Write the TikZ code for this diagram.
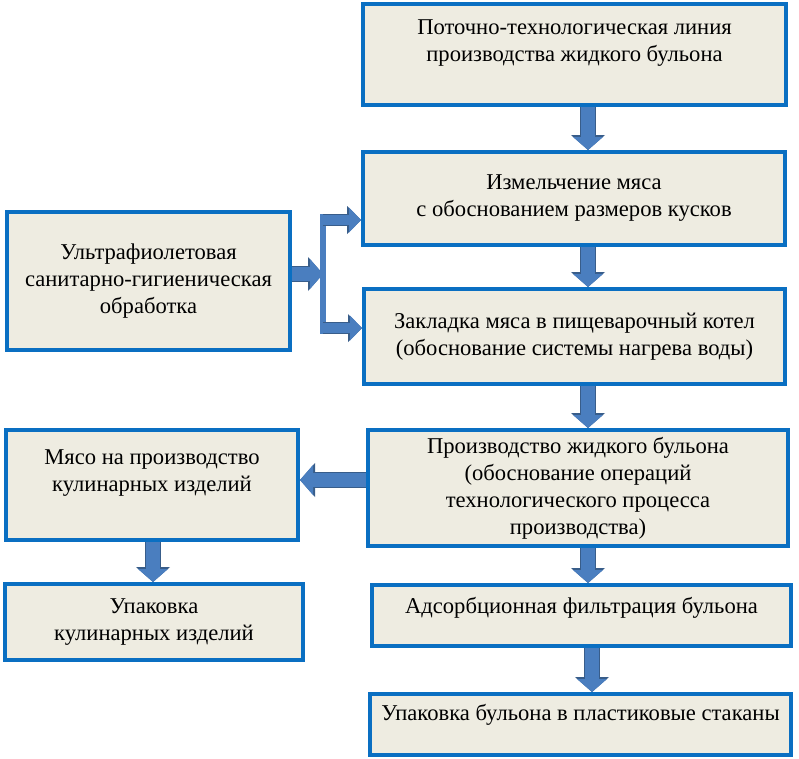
\documentclass[tikz,border=0pt]{standalone}
\usepackage{fontspec}
\setmainfont{Liberation Serif}
\usetikzlibrary{arrows.meta}
\definecolor{boxblue}{HTML}{0A6FC2}
\definecolor{boxfill}{HTML}{EEECE1}
\definecolor{arrowfill}{HTML}{4A7EBF}
\definecolor{arrowedge}{HTML}{385D8A}
\tikzset{
  stage/.style={draw=boxblue, line width=4pt, fill=boxfill, align=center,
    font=\fontsize{22.6}{27}\selectfont, inner sep=0pt},
  lift/.style={text depth=#1},
  flow/.style={draw=arrowfill, line width=14pt,
    -{Triangle[width=30pt,length=13pt,line width=0pt]},
    preaction={draw=arrowedge, line width=16pt,
      -{Triangle[width=34pt,length=15pt,line width=0pt]}}},
  branch/.style={draw=arrowfill, line width=10pt,
    -{Triangle[width=25pt,length=12pt,line width=0pt]},
    preaction={draw=arrowedge, line width=12pt,
      -{Triangle[width=28pt,length=14pt,line width=0pt]}}},
  bar/.style={draw=arrowfill, line width=6pt},
}
\begin{document}
\begin{tikzpicture}[x=1pt, y=-1pt]
    \useasboundingbox (0, 0) rectangle (799, 758);
    % Right column
    \node [stage, lift=27pt, minimum width=423pt, minimum height=101pt] (line) at (574.5, 54.5)
        {Поточно-технологическая линия\\производства жидкого бульона};
    \node [stage, minimum width=422pt, minimum height=93pt] (grind) at (574, 198.5)
        {Измельчение мяса\\с обоснованием размеров кусков};
    \node [stage, minimum width=421pt, minimum height=95pt] (load) at (574.5, 336.5)
        {Закладка мяса в пищеварочный котел\\(обоснование системы нагрева воды)};
    \node [stage, minimum width=420pt, minimum height=116pt] (broth) at (578, 488)
        {Производство жидкого бульона\\(обоснование операций\\технологического процесса\\производства)};
    \node [stage, lift=20pt, minimum width=419pt, minimum height=61pt] (filter) at (581.5, 615.5)
        {Адсорбционная фильтрация бульона};
    \node [stage, lift=24pt, minimum width=421pt, minimum height=61pt] (cups) at (580.5, 724.5)
        {Упаковка бульона в пластиковые стаканы};
    % Left column
    \node [stage, minimum width=283pt, minimum height=138pt] (uv) at (148.5, 281)
        {Ультрафиолетовая\\санитарно-гигиеническая\\обработка};
    \node [stage, lift=29pt, minimum width=292pt, minimum height=110pt] (meat) at (152, 485)
        {Мясо на производство\\кулинарных изделий};
    \node [stage, minimum width=298pt, minimum height=76pt] (pack) at (154, 622)
        {Упаковка\\кулинарных изделий};
    % Arrow positions
    \coordinate (xr) at (588, 0);
    \coordinate (xf) at (592, 0);
    \coordinate (xl) at (153, 0);
    \coordinate (side) at (0, 480);
    \coordinate (fork) at (323, 274);
    \coordinate (up) at (323, 220);
    \coordinate (dn) at (323, 328);
    % Draw arrows
    \draw [flow] (line.south -| xr) -- (grind.north -| xr);
    \draw [flow] (grind.south -| xr) -- (load.north -| xr);
    \draw [flow] (load.south -| xr) -- (broth.north -| xr);
    \draw [flow] (broth.south -| xr) -- (filter.north -| xr);
    \draw [flow] (filter.south -| xf) -- (cups.north -| xf);
    \draw [flow] (broth.west |- side) -- (meat.east |- side);
    \draw [flow] (meat.south -| xl) -- (pack.north -| xl);
    \draw [flow] (uv.east |- fork) -- (fork);
    \draw [bar, shorten <=-6pt, shorten >=-6pt] (up) -- (dn);
    \draw [branch] (up) -- (up -| grind.west);
    \draw [branch] (dn) -- (dn -| load.west);
\end{tikzpicture}
\end{document}
